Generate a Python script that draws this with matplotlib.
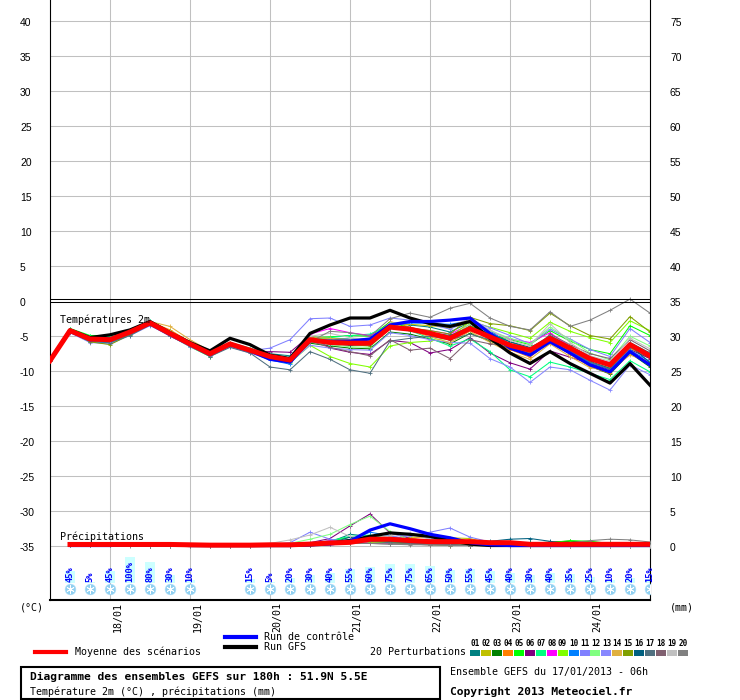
import matplotlib
matplotlib.use("Agg")
import matplotlib.pyplot as plt
from matplotlib.lines import Line2D
from matplotlib.patches import Rectangle
from matplotlib.transforms import blended_transform_factory

# GEFS ensemble, run 17/01/2013 06h, 51.9N 5.5E
hours = list(range(0, 181, 6))          # temperature steps
precip_hours = list(range(6, 181, 6))   # precipitation steps

day_hours = [18, 42, 66, 90, 114, 138, 162]
day_labels = ["18/01", "19/01", "20/01", "21/01", "22/01", "23/01", "24/01"]

# 2m temperature (degC)
mean_t = [-8.6, -4.3, -5.5, -5.6, -4.5, -3.2, -4.7, -6.2, -7.6, -6.2, -7.1, -8.0, -8.5, -5.6, -6.0, -6.1,
          -6.1, -3.8, -4.1, -4.7, -5.4, -4.0, -5.2, -6.4, -7.1, -5.4, -6.8, -8.3, -9.2, -6.3, -7.9]
gfs_t = [-8.6, -4.2, -5.3, -4.9, -4.2, -3.0, -4.6, -6.0, -7.2, -5.4, -6.3, -7.8, -8.3, -4.7, -3.5, -2.5,
         -2.5, -1.4, -2.5, -3.3, -3.7, -3.0, -5.4, -7.5, -9.0, -7.3, -9.0, -10.4, -11.8, -9.0, -12.1]
ctrl_t = [-8.6, -4.4, -5.6, -5.5, -4.5, -3.3, -4.8, -6.3, -7.7, -6.3, -7.2, -8.4, -8.8, -5.7, -5.8, -5.8,
          -5.5, -3.5, -3.0, -3.0, -2.8, -2.5, -4.7, -6.8, -7.8, -5.9, -7.5, -9.2, -10.2, -7.3, -9.2]

p01_t = [-8.6, -4.1, -5.2, -5.3, -4.3, -2.9, -4.6, -6.3, -7.8, -6.3, -7.0, -7.6, -7.9, -5.2, -5.4, -5.5,
         -5.4, -3.3, -3.5, -3.8, -4.5, -3.1, -4.6, -5.9, -6.9, -5.0, -6.5, -8.0, -9.0, -6.0, -7.5]
p02_t = [-8.6, -4.4, -5.8, -5.9, -4.6, -3.1, -4.5, -6.0, -7.4, -6.0, -7.0, -8.2, -8.7, -5.2, -5.5, -5.7,
         -5.9, -3.4, -3.4, -3.6, -3.9, -3.2, -5.0, -6.2, -7.3, -5.8, -7.2, -8.9, -9.6, -6.8, -8.3]
p03_t = [-8.6, -4.5, -5.9, -6.0, -4.8, -3.4, -4.9, -6.4, -7.7, -6.1, -7.2, -8.3, -8.8, -6.1, -6.5, -6.8,
         -6.9, -4.5, -4.8, -5.5, -6.2, -4.7, -5.8, -6.9, -7.6, -6.0, -7.6, -9.4, -10.5, -7.5, -9.5]
p04_t = [-8.6, -4.2, -5.4, -5.4, -4.2, -3.0, -4.2, -5.9, -7.4, -6.1, -7.0, -7.9, -8.6, -5.4, -5.7, -5.9,
         -5.6, -3.0, -3.8, -4.6, -5.3, -3.8, -5.7, -7.0, -8.1, -5.8, -7.7, -9.4, -10.4, -7.3, -9.0]
p05_t = [-8.6, -4.0, -5.0, -5.0, -4.4, -3.3, -5.0, -6.6, -8.0, -6.5, -7.4, -7.9, -8.2, -5.3, -5.2, -5.0,
         -5.1, -3.1, -3.9, -4.8, -5.4, -3.6, -4.8, -5.6, -6.3, -4.3, -5.8, -7.0, -7.6, -3.6, -5.0]
p06_t = [-8.6, -4.4, -5.7, -5.8, -4.7, -3.5, -5.1, -6.5, -7.9, -6.4, -7.3, -7.3, -7.4, -5.0, -6.8, -7.4,
         -7.7, -5.7, -6.0, -7.5, -7.0, -5.3, -7.5, -8.9, -9.8, -7.2, -8.1, -9.0, -9.9, -7.0, -8.3]
p07_t = [-8.6, -4.1, -5.1, -5.2, -4.4, -2.9, -4.4, -6.1, -7.5, -6.0, -6.8, -7.7, -8.2, -5.5, -5.3, -5.0,
         -4.8, -3.5, -4.3, -5.4, -6.5, -5.5, -7.3, -9.9, -10.9, -8.8, -9.5, -10.4, -11.3, -8.6, -10.2]
p08_t = [-8.6, -4.3, -5.6, -5.7, -4.6, -3.3, -4.8, -6.3, -7.6, -6.3, -7.1, -8.1, -8.4, -4.8, -4.0, -4.6,
         -5.0, -3.9, -4.0, -4.3, -4.8, -3.4, -4.4, -5.5, -6.0, -4.6, -6.6, -8.2, -8.9, -6.6, -7.7]
p09_t = [-8.6, -4.4, -5.7, -5.9, -4.7, -3.2, -4.6, -6.2, -7.7, -6.4, -7.2, -8.2, -8.9, -6.4, -8.0, -9.0,
         -9.5, -6.5, -6.0, -5.8, -5.3, -3.0, -3.8, -4.6, -5.4, -3.1, -4.4, -5.3, -6.0, -2.9, -4.3]
p10_t = [-8.6, -4.5, -5.9, -6.1, -4.9, -3.4, -4.8, -6.4, -7.8, -6.4, -7.3, -8.5, -9.1, -5.8, -6.3, -6.3,
         -6.4, -3.6, -3.2, -3.3, -3.4, -2.9, -4.3, -6.3, -7.4, -5.1, -7.2, -8.9, -9.8, -7.1, -8.7]
p11_t = [-8.6, -4.2, -5.3, -5.4, -4.3, -3.0, -4.6, -6.0, -7.5, -6.2, -7.2, -6.8, -5.6, -2.6, -2.5, -3.7,
         -3.5, -2.5, -2.8, -3.4, -4.1, -2.8, -3.9, -5.0, -6.2, -4.1, -5.5, -7.0, -8.0, -4.0, -6.0]
p12_t = [-8.6, -4.3, -5.4, -5.5, -4.5, -3.1, -4.5, -6.1, -7.6, -6.3, -7.1, -7.8, -8.3, -5.9, -6.3, -6.6,
         -6.7, -3.7, -4.1, -4.4, -5.5, -3.3, -4.3, -5.4, -6.2, -3.8, -5.6, -7.5, -8.5, -5.1, -6.5]
p13_t = [-8.6, -4.6, -6.0, -6.2, -5.0, -3.6, -5.0, -6.6, -7.9, -6.6, -7.5, -8.4, -8.8, -6.4, -6.8, -7.0,
         -7.1, -4.6, -5.0, -5.6, -6.0, -6.1, -8.3, -9.5, -11.7, -9.5, -9.9, -11.4, -12.8, -9.2, -10.6]
p14_t = [-8.6, -4.2, -5.5, -5.4, -4.3, -3.0, -3.7, -5.6, -7.2, -6.0, -6.9, -8.0, -8.6, -5.2, -5.4, -5.6,
         -5.8, -3.2, -4.2, -5.2, -6.0, -4.4, -6.0, -7.4, -8.4, -6.2, -8.0, -9.6, -10.0, -7.8, -8.8]
p15_t = [-8.6, -4.4, -5.9, -6.3, -4.9, -3.3, -4.7, -6.2, -7.7, -6.2, -7.0, -7.9, -8.4, -5.5, -6.0, -6.3,
         -6.5, -3.9, -3.9, -4.3, -4.8, -2.4, -3.3, -3.6, -4.3, -1.8, -3.6, -5.0, -5.5, -2.3, -4.5]
p16_t = [-8.6, -4.3, -5.6, -5.8, -4.6, -3.2, -4.7, -6.3, -7.7, -6.3, -7.2, -8.2, -8.7, -5.8, -6.1, -6.4,
         -6.2, -3.9, -4.2, -4.6, -5.0, -3.8, -4.8, -5.9, -6.7, -5.3, -7.0, -8.7, -9.7, -6.4, -8.9]
p17_t = [-8.6, -4.5, -5.8, -6.0, -5.0, -3.5, -5.0, -6.5, -8.0, -6.7, -7.5, -9.5, -9.9, -7.3, -8.4, -9.9,
         -10.4, -5.8, -5.4, -5.1, -5.6, -4.8, -5.6, -6.3, -7.0, -5.2, -7.1, -8.8, -9.8, -6.7, -8.1]
p18_t = [-8.6, -4.4, -5.7, -5.7, -4.6, -3.3, -4.8, -6.4, -7.8, -6.4, -7.2, -8.1, -8.6, -5.8, -6.7, -7.3,
         -7.9, -5.6, -7.1, -6.8, -8.3, -5.6, -6.2, -6.4, -7.6, -4.8, -6.3, -7.6, -8.3, -5.6, -7.2]
p19_t = [-8.6, -4.3, -5.4, -5.6, -4.4, -3.1, -4.5, -6.0, -7.4, -6.0, -6.9, -7.7, -8.3, -5.1, -4.7, -5.3,
         -5.6, -3.2, -3.1, -3.2, -3.7, -2.6, -4.2, -5.7, -6.5, -3.3, -6.0, -7.9, -8.7, -5.4, -6.9]
p20_t = [-8.6, -4.2, -5.3, -5.5, -4.4, -3.1, -4.6, -6.2, -7.6, -6.2, -7.1, -7.9, -8.3, -5.9, -4.4, -4.6,
         -5.1, -2.6, -1.8, -2.4, -1.1, -0.4, -2.5, -3.7, -4.2, -1.6, -3.7, -2.8, -1.4, 0.2, -1.8]

# precipitation (mm / 6h)
mean_r = [0.15, 0.15, 0.15, 0.15, 0.15, 0.15, 0.1, 0.05, 0.05, 0.05, 0.1, 0.1, 0.2, 0.35, 0.45,
          0.9, 0.9, 0.7, 0.55, 0.55, 0.55, 0.4, 0.4, 0.17, 0.17, 0.17, 0.17, 0.17, 0.17, 0.17]
gfs_r = [0.05, 0.05, 0.05, 0.05, 0.05, 0.05, 0, 0, 0, 0, 0, 0, 0.1, 0.3, 0.7,
         1.3, 1.8, 1.6, 1.3, 0.7, 0.2, 0, 0, 0, 0, 0, 0, 0, 0, 0]
ctrl_r = [0, 0, 0, 0.1, 0.1, 0.1, 0, 0, 0, 0, 0, 0, 0.1, 0.2, 0.6,
          2.2, 3.1, 2.4, 1.6, 1.1, 0.4, 0.1, 0, 0, 0, 0, 0, 0, 0, 0]

p01_r = [0.1, 0.1, 0.1, 0.1, 0.1, 0.1, 0, 0, 0, 0, 0, 0, 0.2, 0.5, 1.6, 1.3, 0.8, 0.5, 0.3, 0.2, 0.1, 0.1, 0.2, 0.4, 0.2, 0.1, 0, 0, 0, 0]
p02_r = [0.1, 0.1, 0.1, 0.1, 0.1, 0.1, 0, 0, 0, 0, 0, 0, 0.1, 0.2, 0.3, 0.5, 0.6, 1.2, 1.1, 1.1, 1.0, 0.3, 0.1, 0.1, 0, 0, 0, 0, 0, 0]
p03_r = [0.1, 0.1, 0.1, 0.1, 0.1, 0, 0, 0, 0, 0, 0.1, 0.1, 0.2, 0.3, 0.4, 0.6, 0.5, 0.3, 0.2, 0.1, 0.1, 0.1, 0.2, 0.3, 0.5, 0.6, 0.5, 0.3, 0.2, 0.1]
p04_r = [0.1, 0.1, 0.1, 0.1, 0.1, 0, 0, 0, 0, 0, 0, 0, 0.2, 0.4, 0.6, 0.5, 0.4, 0.3, 0.2, 0.1, 0, 0, 0, 0, 0, 0, 0, 0, 0, 0]
p05_r = [0.1, 0.1, 0.1, 0.1, 0.1, 0.1, 0, 0, 0, 0, 0.1, 0.2, 0.3, 0.6, 1.2, 0.9, 0.5, 0.3, 0.2, 0.1, 0, 0.1, 0.2, 0.3, 0.4, 0.7, 0.6, 0.3, 0.1, 0]
p06_r = [0.1, 0.1, 0.1, 0.1, 0.1, 0, 0, 0, 0, 0, 0, 0.1, 0.4, 1.0, 2.8, 4.5, 1.8, 1.0, 0.6, 0.3, 0.1, 0, 0, 0, 0, 0, 0, 0, 0, 0]
p07_r = [0.1, 0.1, 0.1, 0.1, 0, 0, 0, 0, 0, 0, 0, 0.1, 0.3, 0.7, 1.3, 1.5, 1.0, 0.6, 0.3, 0.2, 0.1, 0, 0.1, 0.2, 0.1, 0, 0, 0, 0, 0]
p08_r = [0.1, 0.1, 0.1, 0.1, 0, 0, 0, 0, 0, 0, 0, 0.1, 0.3, 0.7, 0.5, 0.4, 0.3, 0.2, 0.1, 0, 0, 0, 0, 0, 0, 0, 0, 0, 0, 0]
p09_r = [0.1, 0.1, 0.1, 0.1, 0.1, 0, 0, 0, 0, 0, 0.2, 0.3, 0.2, 0.4, 0.6, 0.5, 0.4, 0.2, 0.1, 0, 0, 0, 0, 0, 0.1, 0.1, 0, 0, 0, 0]
p10_r = [0.1, 0.1, 0.1, 0.1, 0.1, 0, 0, 0, 0, 0, 0, 0, 0.1, 0.3, 0.8, 1.9, 1.4, 0.7, 0.4, 0.2, 0.1, 0, 0, 0, 0, 0, 0, 0, 0, 0]
p11_r = [0.1, 0.1, 0.1, 0.1, 0.1, 0, 0, 0, 0, 0, 0.1, 0.4, 1.9, 0.9, 0.5, 0.6, 0.9, 1.4, 1.9, 2.5, 1.2, 0.5, 0.2, 0, 0, 0, 0, 0, 0, 0]
p12_r = [0.1, 0.1, 0.1, 0.1, 0.1, 0.1, 0, 0, 0, 0, 0.1, 0.3, 0.9, 1.6, 3.0, 4.2, 2.0, 0.8, 0.4, 0.2, 0.1, 0, 0, 0, 0, 0, 0, 0, 0, 0]
p13_r = [0.1, 0.1, 0.1, 0.1, 0, 0, 0, 0, 0, 0, 0, 0, 0.2, 0.4, 0.6, 0.9, 1.2, 1.6, 1.0, 0.6, 0.3, 0.1, 0, 0, 0, 0, 0, 0, 0, 0]
p14_r = [0.1, 0.1, 0.1, 0.1, 0, 0, 0, 0, 0, 0, 0, 0.1, 0.2, 0.4, 0.7, 1.0, 0.8, 1.0, 1.3, 0.9, 0.5, 0.2, 0, 0, 0, 0, 0, 0, 0, 0]
p15_r = [0.1, 0.1, 0.1, 0.1, 0.1, 0, 0, 0, 0, 0, 0, 0, 0.1, 0.3, 0.5, 0.7, 0.5, 0.3, 0.2, 0.1, 0, 0, 0, 0, 0, 0, 0.1, 0.1, 0, 0]
p16_r = [0.1, 0.1, 0.1, 0.1, 0, 0, 0, 0, 0, 0, 0, 0, 0.1, 0.3, 1.2, 0.9, 0.6, 0.4, 0.3, 0.2, 0.3, 0.6, 0.9, 1.0, 0.6, 0.2, 0.1, 0, 0, 0]
p17_r = [0.1, 0.1, 0.1, 0.1, 0.1, 0, 0, 0, 0, 0, 0, 0.1, 0.2, 0.5, 0.9, 0.6, 0.4, 0.3, 0.2, 0.1, 0, 0, 0, 0, 0, 0, 0, 0, 0, 0]
p18_r = [0.1, 0.1, 0.1, 0, 0, 0, 0, 0, 0, 0, 0, 0, 0.1, 0.2, 0.3, 0.3, 0.2, 0.2, 0.1, 0.1, 0, 0, 0, 0, 0, 0, 0, 0, 0, 0]
p19_r = [0.1, 0.1, 0.1, 0.1, 0.1, 0, 0, 0, 0, 0, 0.3, 0.8, 1.5, 2.6, 1.3, 1.0, 1.4, 1.8, 0.9, 0.5, 0.2, 0.1, 0, 0, 0, 0, 0, 0, 0, 0]
p20_r = [0.1, 0.1, 0.1, 0.1, 0, 0, 0, 0, 0, 0, 0, 0, 0.1, 0.2, 0.3, 0.3, 0.2, 0.1, 0.1, 0, 0, 0, 0, 0, 0.2, 0.4, 0.7, 0.9, 0.8, 0.5]

pert_colors = ["#008080", "#c0c000", "#008000", "#ff8000", "#00ff00", "#800080", "#00ff80",
               "#ff00ff", "#80ff00", "#0080ff", "#8080ff", "#80ff80", "#8888ff", "#e0b040",
               "#80a000", "#006080", "#507080", "#806070", "#c0c0c0", "#808080"]

# snow probability
snow_hours = [6, 12, 18, 24, 30, 36, 42, 60, 66, 72, 78, 84, 90, 96, 102, 108, 114, 120,
              126, 132, 138, 144, 150, 156, 162, 168, 174, 180]
snow_pct = [45, 5, 45, 100, 80, 30, 10, 15, 5, 20, 30, 40, 55, 60, 75, 75, 65, 50,
            55, 45, 40, 30, 40, 35, 25, 10, 20, 15]

pert_temps = [p01_t, p02_t, p03_t, p04_t, p05_t, p06_t, p07_t, p08_t, p09_t, p10_t,
              p11_t, p12_t, p13_t, p14_t, p15_t, p16_t, p17_t, p18_t, p19_t, p20_t]
pert_rains = [p01_r, p02_r, p03_r, p04_r, p05_r, p06_r, p07_r, p08_r, p09_r, p10_r,
              p11_r, p12_r, p13_r, p14_r, p15_r, p16_r, p17_r, p18_r, p19_r, p20_r]

W, H = 740, 700
MONO = "DejaVu Sans Mono"
SANS = "Liberation Sans"
GRID = "#c0c0c0"


def ypix(p):
    # pixel row -> temperature axis units (7 px per degree, 0 at row 300.5)
    return (300.5 - p) / 7.0


def fx(px):
    return px / W


def fy(py):
    return 1 - py / H


fig = plt.figure(figsize=(W / 100, H / 100), dpi=100)
ax = fig.add_axes([fx(50), fy(600), 600 / W, 600 / H])
ax.set_xlim(0, 180)
ax.set_ylim(ypix(600), ypix(0))
ax.set_xticks([])
ax.set_yticks([])
ax.spines["top"].set_visible(False)
ax.spines["left"].set_linewidth(0.8)
ax.spines["right"].set_linewidth(0.8)
ax.spines["bottom"].set_linewidth(1.5)

ax2 = ax.twinx()
ax2.set_ylim(ypix(600) + 35, ypix(0) + 35)
ax2.set_yticks([])
ax2.axis("off")

# grid
for v in list(range(5, 45, 5)) + list(range(-5, -40, -5)):
    ax.axhline(v, color=GRID, lw=0.75, zorder=0)
for d in day_hours:
    ax.axvline(d, color=GRID, lw=0.75, zorder=0)
ax.axhline(0.15, color="black", lw=0.75, zorder=5)
ax.axhline(-0.15, color="black", lw=0.75, zorder=5)

# temperatures
for temps, c in zip(pert_temps, pert_colors):
    ax.plot(hours, temps, color=c, lw=0.75, marker="+", ms=3, mew=0.6, zorder=2)
ax.plot(hours, gfs_t, color="black", lw=2.3, zorder=3)
ax.plot(hours, ctrl_t, color="#0000ff", lw=2.3, zorder=3)
ax.plot(hours, mean_t, color="#ff0000", lw=3.6, zorder=4)

# precipitation on the right-hand scale
for rains, c in zip(pert_rains, pert_colors):
    ax2.plot(precip_hours, rains, color=c, lw=0.75, marker="+", ms=3, mew=0.6, zorder=2)
ax2.plot(precip_hours, gfs_r, color="black", lw=2.3, zorder=3)
ax2.plot(precip_hours, ctrl_r, color="#0000ff", lw=2.3, zorder=3)
ax2.plot(precip_hours, mean_r, color="#ff0000", lw=3.6, zorder=4)

# snow probability boxes, labels and icons
bar_h = [p * 0.26 / 7 for p in snow_pct]
ax.bar(snow_hours, bar_h, bottom=ypix(583), width=3.2, color="#ccffff", zorder=1)
for h, p in zip(snow_hours, snow_pct):
    ax.text(h, ypix(582.5), f"{p}%", rotation=90, ha="center", va="bottom",
            fontsize=6.3, color="#0000ff", family=MONO, fontweight="bold", zorder=6)
ax.scatter(snow_hours, [ypix(589)] * len(snow_hours), s=60, color="#8fcff0",
           edgecolors="#b0e0f8", linewidths=0.4, zorder=6)
ax.scatter(snow_hours, [ypix(589)] * len(snow_hours), s=30, marker=(6, 2, 0),
           color="white", linewidths=0.6, zorder=7)

# axis labels
tl = blended_transform_factory(fig.transFigure, ax.transData)
for v in range(40, -40, -5):
    ax.text(fx(20), v - 0.4, str(v), transform=tl, ha="left", va="center",
            fontsize=7.5, family=SANS)
tr = blended_transform_factory(fig.transFigure, ax2.transData)
for v in range(75, -5, -5):
    ax2.text(fx(670), v - 0.4, str(v), transform=tr, ha="left", va="center",
             fontsize=7.5, family=SANS)

for d, lab in zip(day_hours, day_labels):
    ax.text(d + 2.2, ypix(602), lab, rotation=90, ha="center", va="top",
            fontsize=7.2, family=MONO)

ax.text(fx(60), -2.8, "Températures 2m", transform=tl, ha="left", va="center",
        fontsize=7.2, family=MONO, zorder=8)
ax.text(fx(60), -33.7, "Précipitations", transform=tl, ha="left", va="center",
        fontsize=7.2, family=MONO, zorder=8)
fig.text(fx(20), fy(607.5), "(°C)", ha="left", va="center", fontsize=7.2, family=MONO)
fig.text(fx(670), fy(607.5), "(mm)", ha="left", va="center", fontsize=7.2, family=MONO)

# legend
fig.add_artist(Line2D([fx(35), fx(66)], [fy(652), fy(652)], color="#ff0000", lw=3.0))
fig.text(fx(75), fy(652), "Moyenne des scénarios", ha="left", va="center", fontsize=7.2, family=MONO)
fig.add_artist(Line2D([fx(225), fx(256)], [fy(637), fy(637)], color="#0000ff", lw=3.0))
fig.text(fx(264), fy(637), "Run de contrôle", ha="left", va="center", fontsize=7.2, family=MONO)
fig.add_artist(Line2D([fx(225), fx(256)], [fy(646.5), fy(646.5)], color="black", lw=3.0))
fig.text(fx(264), fy(647), "Run GFS", ha="left", va="center", fontsize=7.2, family=MONO)
fig.text(fx(370), fy(652), "20 Perturbations", ha="left", va="center", fontsize=7.2, family=MONO)
for i, c in enumerate(pert_colors):
    x0 = 470 + i * 10.95
    fig.add_artist(Rectangle((fx(x0), fy(656)), 10 / W, 6 / H, transform=fig.transFigure,
                             facecolor=c, edgecolor="none"))
    fig.text(fx(x0 + 5), fy(644), f"{i + 1:02d}", ha="center", va="center",
             fontsize=5.5, family=MONO, fontweight="bold")

# caption box
fig.add_artist(Rectangle((fx(21), fy(699)), 419 / W, 32 / H, transform=fig.transFigure,
                         facecolor="none", edgecolor="black", lw=1.5))
fig.text(fx(30), fy(677), "Diagramme des ensembles GEFS sur 180h : 51.9N 5.5E", ha="left",
         va="center", fontsize=8.1, family=MONO, fontweight="bold")
fig.text(fx(30), fy(692), "Température 2m (°C) , précipitations (mm)", ha="left",
         va="center", fontsize=7.2, family=MONO)
fig.text(fx(450), fy(672.5), "Ensemble GEFS du 17/01/2013 - 06h", ha="left",
         va="center", fontsize=7.2, family=MONO)
fig.text(fx(450), fy(692), "Copyright 2013 Meteociel.fr", ha="left",
         va="center", fontsize=8.1, family=MONO, fontweight="bold")

fig.savefig("out.png", dpi=100)
